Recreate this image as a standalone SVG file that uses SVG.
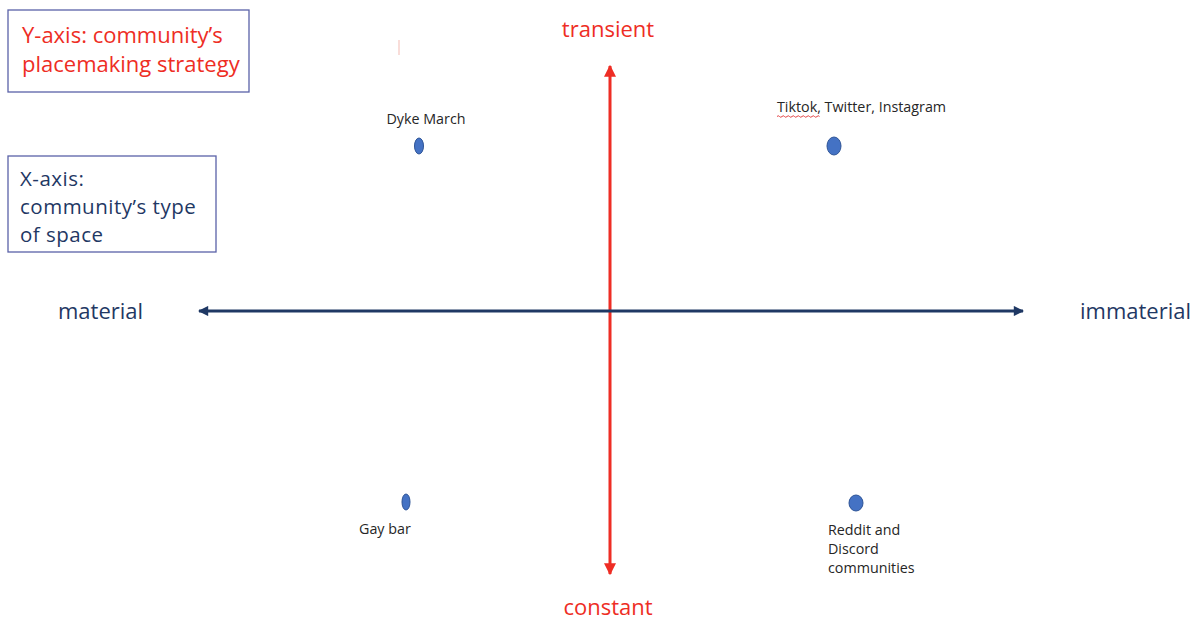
<svg xmlns="http://www.w3.org/2000/svg" width="1194" height="621" viewBox="0 0 1194 621">
<defs>
<style>
.red{fill:#ee2d24;font-family:"Open Sans",Lato,sans-serif;font-size:22px}
.navy{fill:#1f3864;font-family:"Open Sans",Lato,sans-serif;font-size:22px}
.xl{font-size:20.5px;letter-spacing:0.5px}
.lbl{fill:#262626;font-family:"Open Sans",Lato,sans-serif;font-size:14.3px}
.box{fill:#fff;stroke:#5a62a8;stroke-width:1.3}
.dot{fill:#4472c4;stroke:#2f5597;stroke-width:1}
</style>
<marker id="ar" viewBox="0 0 10 10" refX="9" refY="5" markerWidth="4" markerHeight="4" orient="auto-start-reverse">
<path d="M0,0L10,5L0,10z" fill="#ee2d24"/>
</marker>
<marker id="an" viewBox="0 0 10 10" refX="9" refY="5" markerWidth="4" markerHeight="3.4" orient="auto-start-reverse">
<path d="M0,0L10,5L0,10z" fill="#1f3864"/>
</marker>
</defs>
<rect width="1194" height="621" fill="#fff"/>
<g id="ylegend">
<rect class="box" x="8" y="10" width="241" height="82"/>
<text class="red" x="22" y="43">Y-axis: community’s</text>
<text class="red" x="22" y="72">placemaking strategy</text>
</g>
<g id="xlegend">
<rect class="box" x="8" y="156" width="208" height="96"/>
<text class="navy xl" x="20" y="186">X-axis:</text>
<text class="navy xl" x="20" y="214">community’s type</text>
<text class="navy xl" x="20" y="242">of space</text>
</g>
<line x1="399" y1="40" x2="399" y2="55" stroke="#f5c6c0" stroke-width="1.2"/>
<g id="connectors">
<line x1="610" y1="66" x2="610" y2="574" stroke="#ee2d24" stroke-width="3" marker-start="url(#ar)" marker-end="url(#ar)"/>
<line x1="199" y1="311" x2="1023" y2="311" stroke="#1f3864" stroke-width="3" marker-start="url(#an)" marker-end="url(#an)"/>
</g>
<g id="axis-labels">
<text class="red" x="608" y="37" text-anchor="middle">transient</text>
<text class="red" x="608" y="615" text-anchor="middle">constant</text>
<text class="navy" x="58" y="319">material</text>
<text class="navy" x="1080" y="319">immaterial</text>
</g>
<g id="dyke-march">
<ellipse class="dot" cx="419" cy="146" rx="4.5" ry="8"/>
<text class="lbl" x="426" y="124" text-anchor="middle">Dyke March</text>
</g>
<g id="social-media">
<ellipse class="dot" cx="834" cy="146" rx="7" ry="9"/>
<text class="lbl" x="777" y="112">Tiktok, Twitter, Instagram</text>
<path d="M777,116.5 q1.25,-1.5 2.5,0 t2.5,0 t2.5,0 t2.5,0 t2.5,0 t2.5,0 t2.5,0 t2.5,0 t2.5,0 t2.5,0 t2.5,0 t2.5,0 t2.5,0 t2.5,0 t2.5,0 t2.5,0 t2.5,0" fill="none" stroke="#e03030" stroke-width="0.9"/>
</g>
<g id="gay-bar">
<ellipse class="dot" cx="406" cy="502" rx="4" ry="8"/>
<text class="lbl" x="359" y="534">Gay bar</text>
</g>
<g id="reddit-discord">
<ellipse class="dot" cx="856" cy="503" rx="7" ry="8"/>
<text class="lbl" x="828" y="535">Reddit and</text>
<text class="lbl" x="828" y="554">Discord</text>
<text class="lbl" x="828" y="573">communities</text>
</g>
</svg>
